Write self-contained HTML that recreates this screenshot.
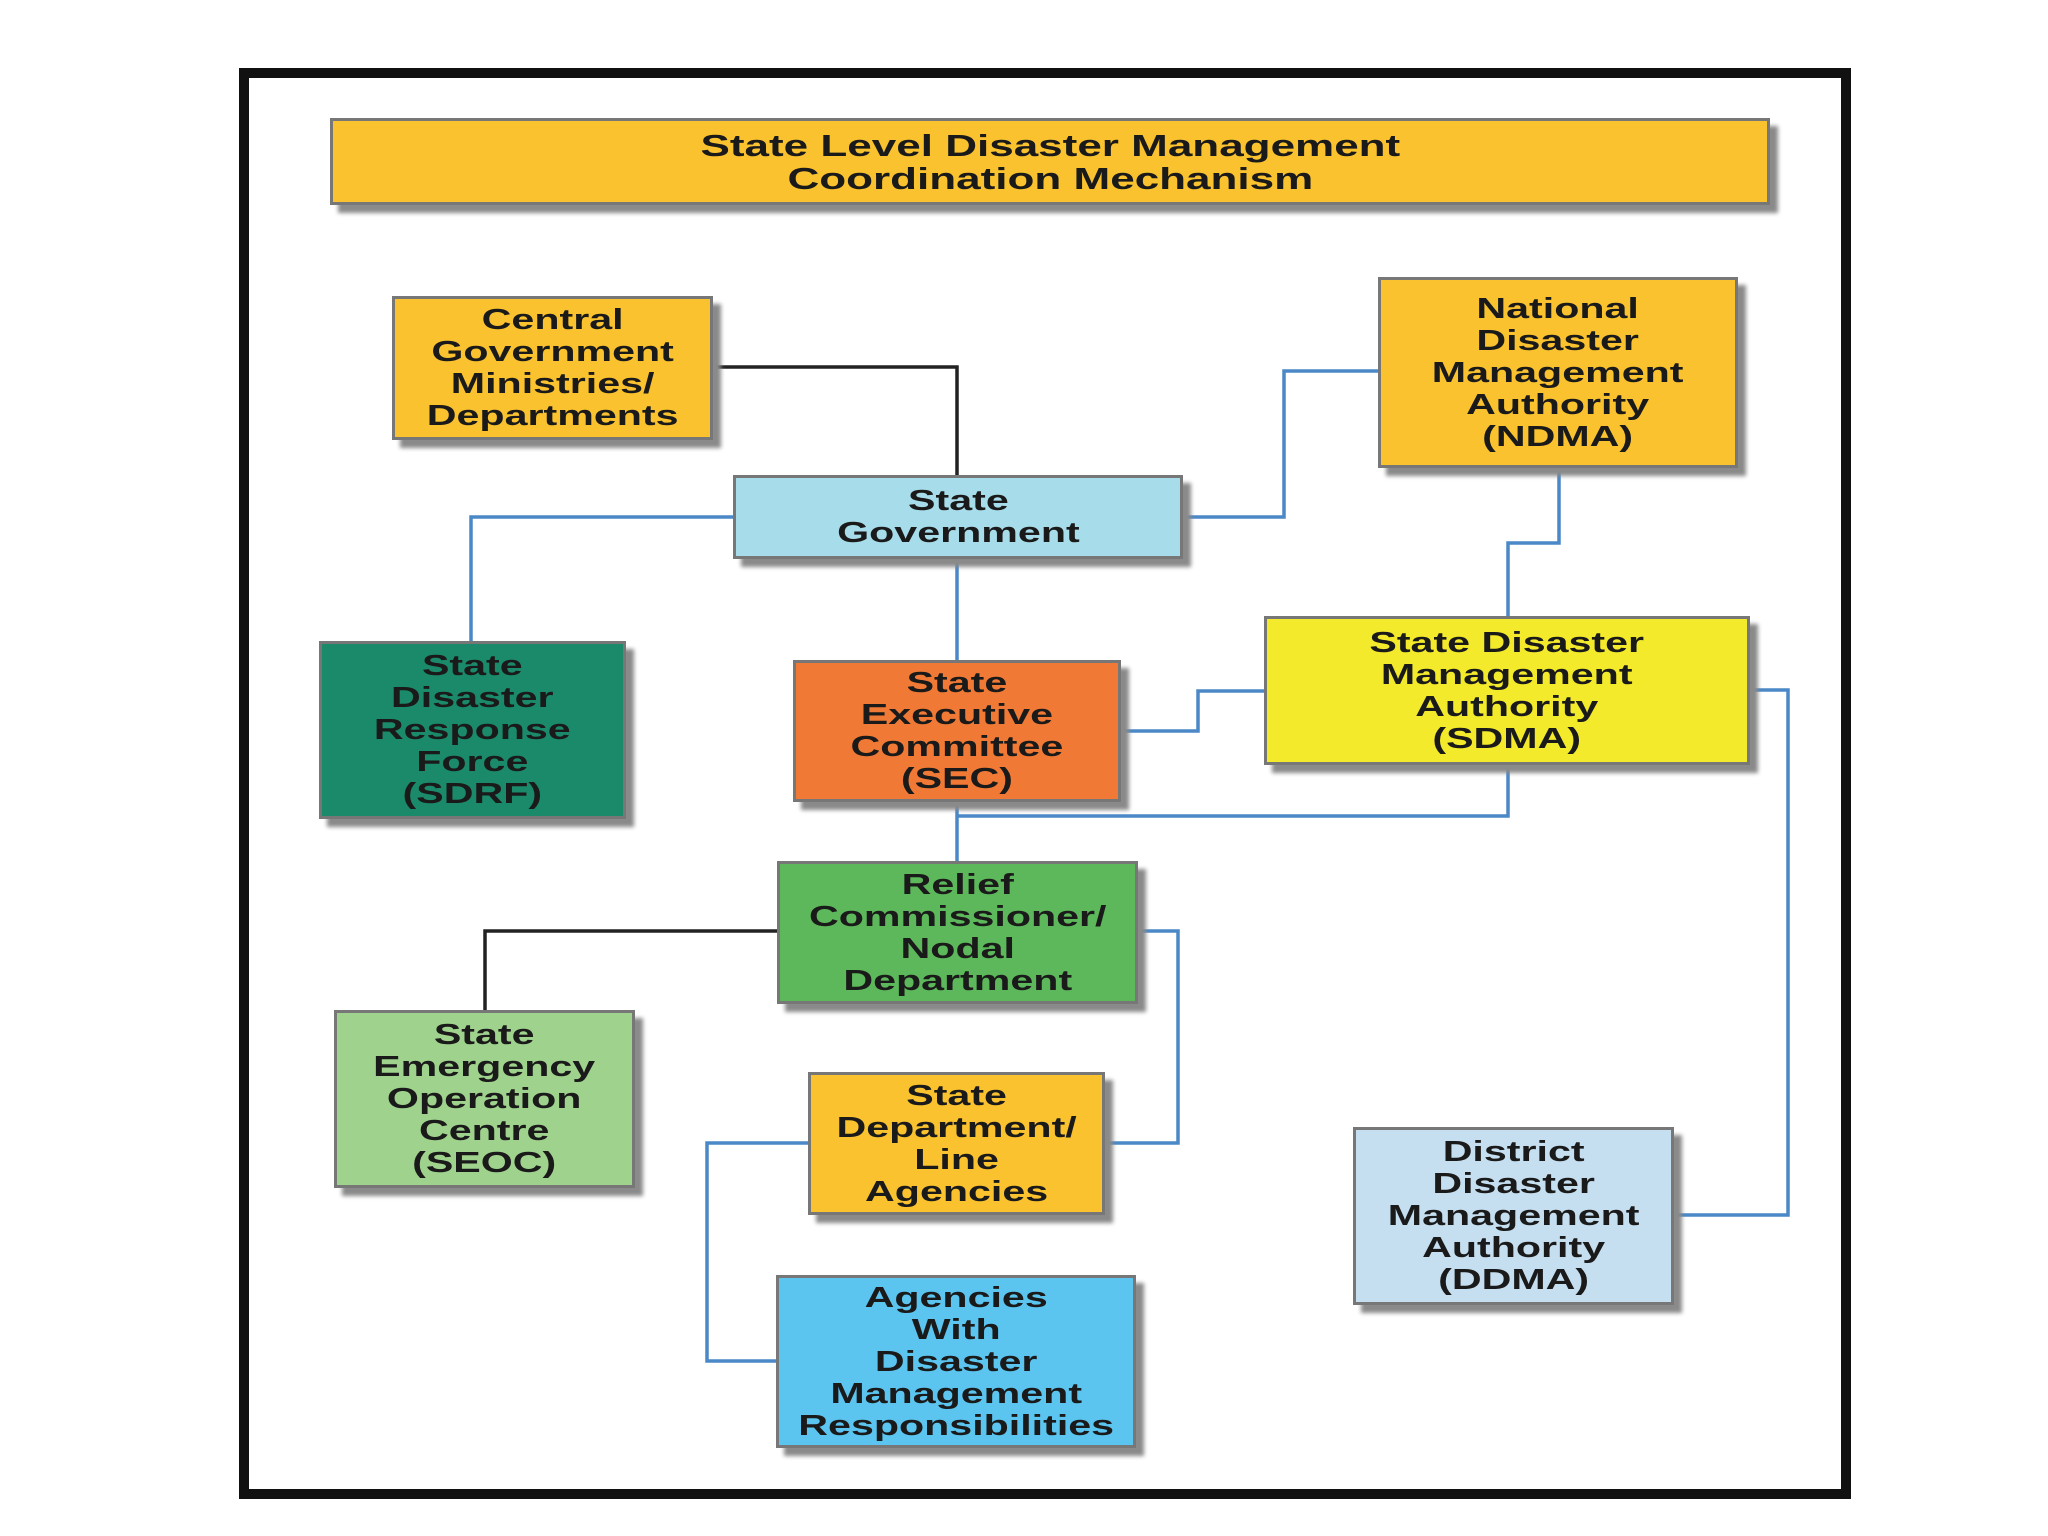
<!DOCTYPE html>
<html><head><meta charset="utf-8"><style>
body{margin:0;width:2048px;height:1536px;background:#fff;position:relative;overflow:hidden;font-family:"Liberation Sans",sans-serif}
.frame{position:absolute;left:239px;top:68px;width:1592px;height:1411px;border:10px solid #111;background:#fff}
.b{position:absolute;box-sizing:border-box;border:3px solid #777;display:flex;align-items:center;justify-content:center;text-align:center;font-weight:bold;font-size:29px;line-height:32px;color:#1a1a1a;box-shadow:8px 8px 4px #8a8a8a}
.b span{display:inline-block;transform:scaleX(1.42);white-space:nowrap}
svg{position:absolute;left:0;top:0}
</style></head><body>
<div class="frame"></div>
<svg width="2048" height="1536">
<g fill="none" stroke-width="3.5">
<polyline points="713,367 957,367 957,475" stroke="#222"/>
<polyline points="733,517 471,517 471,641" stroke="#4a88c7"/>
<polyline points="1183,517 1284,517 1284,371 1378,371" stroke="#4a88c7"/>
<polyline points="957,559 957,660" stroke="#4a88c7"/>
<polyline points="1559,468 1559,543 1508,543 1508,616" stroke="#4a88c7"/>
<polyline points="1121,731 1198,731 1198,691 1264,691" stroke="#4a88c7"/>
<polyline points="957,802 957,861" stroke="#4a88c7"/>
<polyline points="957,816 1508,816 1508,765" stroke="#4a88c7"/>
<polyline points="1750,690 1788,690 1788,1215 1674,1215" stroke="#4a88c7"/>
<polyline points="777,931 485,931 485,1010" stroke="#222"/>
<polyline points="1138,931 1178,931 1178,1143 1105,1143" stroke="#4a88c7"/>
<polyline points="808,1143 707,1143 707,1361 776,1361" stroke="#4a88c7"/>
</g></svg>
<div class="b" style="left:330px;top:118px;width:1440px;height:87px;background:#f9c22e;font-size:31px;line-height:33px"><span>State Level Disaster Management<br>Coordination Mechanism</span></div>
<div class="b" style="left:392px;top:296px;width:321px;height:144px;background:#f9c22e"><span>Central<br>Government<br>Ministries/<br>Departments</span></div>
<div class="b" style="left:1378px;top:277px;width:360px;height:191px;background:#f9c22e"><span>National<br>Disaster<br>Management<br>Authority<br>(NDMA)</span></div>
<div class="b" style="left:733px;top:475px;width:450px;height:84px;background:#a7dcea"><span>State<br>Government</span></div>
<div class="b" style="left:319px;top:641px;width:307px;height:178px;background:#1a8a6a"><span>State<br>Disaster<br>Response<br>Force<br>(SDRF)</span></div>
<div class="b" style="left:793px;top:660px;width:328px;height:142px;background:#f07a35"><span>State<br>Executive<br>Committee<br>(SEC)</span></div>
<div class="b" style="left:1264px;top:616px;width:486px;height:149px;background:#f2ea2a"><span>State Disaster<br>Management<br>Authority<br>(SDMA)</span></div>
<div class="b" style="left:777px;top:861px;width:361px;height:143px;background:#5cb85a"><span>Relief<br>Commissioner/<br>Nodal<br>Department</span></div>
<div class="b" style="left:334px;top:1010px;width:301px;height:178px;background:#9fd38d"><span>State<br>Emergency<br>Operation<br>Centre<br>(SEOC)</span></div>
<div class="b" style="left:808px;top:1072px;width:297px;height:143px;background:#f9c22e"><span>State<br>Department/<br>Line<br>Agencies</span></div>
<div class="b" style="left:776px;top:1275px;width:360px;height:173px;background:#5bc5f0"><span>Agencies<br>With<br>Disaster<br>Management<br>Responsibilities</span></div>
<div class="b" style="left:1353px;top:1127px;width:321px;height:178px;background:#c5dff0"><span>District<br>Disaster<br>Management<br>Authority<br>(DDMA)</span></div>
</body></html>
